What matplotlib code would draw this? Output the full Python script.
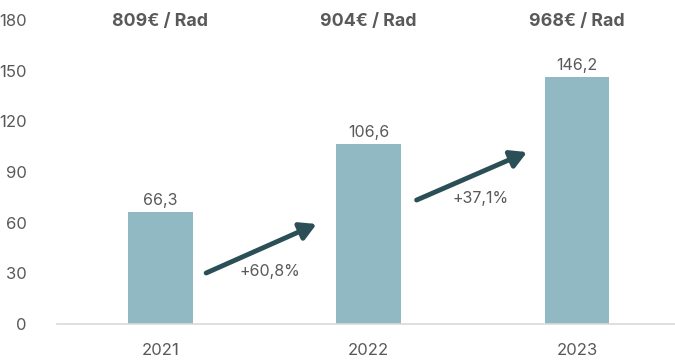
import matplotlib
matplotlib.use("Agg")
import matplotlib.pyplot as plt

# data
years = ["2021", "2022", "2023"]
values = [66.3, 106.6, 146.2]
value_labels = ["66,3", "106,6", "146,2"]
headers = ["809€ / Rad", "904€ / Rad", "968€ / Rad"]
growth_labels = ["+60,8%", "+37,1%"]
# arrows between bars: (x0, y0, x1, y1) in data units
arrows = [(0.22, 30.2, 0.75, 59.2), (1.23, 73.4, 1.76, 101.8)]
growth_pos = [(0.525, 30.8), (1.537, 74.6)]

plt.rcParams["font.family"] = ["Inter", "DejaVu Sans"]

bar_color = "#90B9C3"
arrow_color = "#2B4F56"
text_color = "#595959"

fig = plt.figure(figsize=(6.75, 3.61), dpi=100)
ax = fig.add_axes([0.0844, 0.1025, 0.9156, 0.842])

x = list(range(len(years)))
ax.bar(x, values, width=0.31, color=bar_color, zorder=2)

for xi, v, lab in zip(x, values, value_labels):
    ax.annotate(lab, (xi, v), xytext=(0, 3), textcoords="offset points",
                ha="center", va="bottom", fontsize=11.5, color=text_color)

for xi, h in zip(x, headers):
    ax.text(xi, 179, h, ha="center", va="center", fontsize=12.8,
            fontweight="bold", color=text_color)

for (x0, y0, x1, y1) in arrows:
    ax.annotate("", xy=(x1, y1), xytext=(x0, y0),
                arrowprops=dict(arrowstyle="-|>,head_length=0.8,head_width=0.45",
                                lw=3.5, color=arrow_color, shrinkA=0, shrinkB=0,
                                mutation_scale=12))

for (gx, gy), g in zip(growth_pos, growth_labels):
    ax.text(gx, gy, g, ha="center", va="center", fontsize=11.5, color=text_color)

ax.set_xlim(-0.496, 2.47)
ax.set_ylim(0, 180)
ax.set_yticks(range(0, 181, 30))
ax.set_xticks(x)
ax.set_xticklabels(years)

for s in ["top", "right", "left"]:
    ax.spines[s].set_visible(False)
ax.spines["bottom"].set_color("#D9D9D9")
ax.spines["bottom"].set_linewidth(1.2)
ax.tick_params(axis="y", length=0, pad=22, labelsize=12, labelcolor=text_color)
ax.tick_params(axis="x", length=0, pad=14, labelsize=12, labelcolor=text_color)

fig.savefig("out.png", dpi=100)
